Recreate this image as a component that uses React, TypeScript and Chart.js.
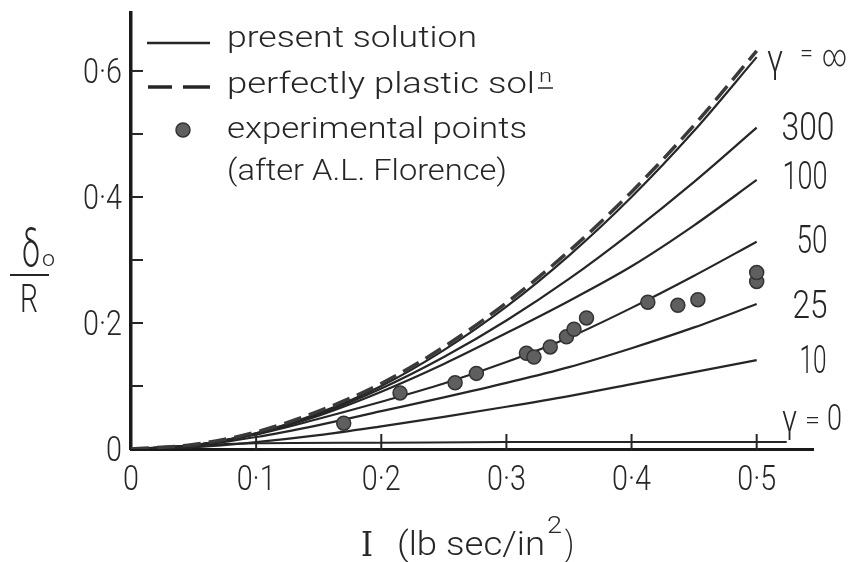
import React, { useEffect, useRef } from "react";
import { Chart, registerables } from "chart.js";

Chart.register(...registerables);

// ---------- data ----------
const impulse = [0, 0.05, 0.1, 0.15, 0.2, 0.25, 0.3, 0.35, 0.4, 0.45, 0.5];
const plasticSol = [0, 0.007, 0.027, 0.06, 0.104, 0.162, 0.232, 0.314, 0.408, 0.514, 0.632];
const gammaInf = [0, 0.006, 0.025, 0.057, 0.1, 0.157, 0.226, 0.307, 0.4, 0.505, 0.622];
const gamma300 = [0, 0.006, 0.025, 0.055, 0.096, 0.146, 0.204, 0.27, 0.344, 0.424, 0.51];
const gamma100 = [0, 0.006, 0.024, 0.053, 0.091, 0.135, 0.184, 0.235, 0.29, 0.355, 0.427];
const gamma50 = [0, 0.006, 0.023, 0.048, 0.075, 0.104, 0.138, 0.177, 0.224, 0.275, 0.329];
const gamma25 = [0, 0.005, 0.019, 0.038, 0.06, 0.082, 0.105, 0.13, 0.16, 0.193, 0.23];
const gamma10 = [0, 0.003, 0.011, 0.022, 0.036, 0.051, 0.067, 0.084, 0.103, 0.122, 0.141];
const gamma0X = [0, 0.05, 0.1, 0.2, 0.3, 0.4, 0.5, 0.524];
const gamma0Y = [0, 0.006, 0.009, 0.01, 0.011, 0.011, 0.011, 0.011];

const expX = [0.17, 0.215, 0.259, 0.276, 0.316, 0.322, 0.335, 0.348, 0.354, 0.364, 0.413, 0.437, 0.453, 0.5, 0.5];
const expY = [0.041, 0.089, 0.105, 0.12, 0.152, 0.146, 0.162, 0.178, 0.19, 0.208, 0.233, 0.228, 0.237, 0.266, 0.28];

const xTicks = [0, 0.1, 0.2, 0.3, 0.4, 0.5];
const xTickLabels = ["0", "0·1", "0·2", "0·3", "0·4", "0·5"];
const yTicks = [0, 0.1, 0.2, 0.3, 0.4, 0.5, 0.6];
const yTickLabels = ["0", "", "0·2", "", "0·4", "", "0·6"];

const curveNames = ["300", "100", "50", "25", "10"];
const legendTexts = ["present solution", "perfectly plastic sol", "experimental points", "(after A.L. Florence)"];

const INK = "#262626";
const FONT = "Roboto, 'DejaVu Sans', sans-serif";
const SERIF = "'DejaVu Serif', 'Liberation Serif', serif";

function pts(xs: number[], ys: number[]) {
  return xs.map((x, i) => ({ x, y: ys[i] }));
}

function drawFit(
  ctx: CanvasRenderingContext2D,
  text: string,
  x: number,
  baseline: number,
  size: number,
  width: number | null,
  align: "left" | "center" | "right" = "left",
  sxDefault = 1,
  family = FONT,
  weight = "300"
) {
  ctx.save();
  ctx.font = `${weight} ${size}px ${family}`;
  const w = ctx.measureText(text).width;
  const sx = width ? width / w : sxDefault;
  const ww = w * sx;
  let x0 = x;
  if (align === "center") x0 = x - ww / 2;
  else if (align === "right") x0 = x - ww;
  ctx.translate(x0, baseline);
  ctx.scale(sx, 1);
  ctx.textAlign = "left";
  ctx.textBaseline = "alphabetic";
  ctx.fillStyle = INK;
  ctx.fillText(text, 0, 0);
  ctx.restore();
}

const overlay = {
  id: "overlay",
  afterDraw(chart: any) {
    const ctx: CanvasRenderingContext2D = chart.ctx;
    const xs = chart.scales.x;
    const ys = chart.scales.y;
    const x0 = xs.getPixelForValue(0);
    const y0 = ys.getPixelForValue(0);
    ctx.save();
    ctx.strokeStyle = INK;
    ctx.lineWidth = 2;
    const seg = (a: number, b: number, c: number, d: number) => {
      ctx.beginPath();
      ctx.moveTo(a, b);
      ctx.lineTo(c, d);
      ctx.stroke();
    };
    // inward tick marks
    yTicks.forEach((v) => {
      if (v === 0) return;
      const py = ys.getPixelForValue(v);
      seg(x0, py, x0 + 12, py);
    });
    xTicks.forEach((v) => {
      if (v === 0) return;
      const px = xs.getPixelForValue(v);
      seg(px, y0 + 1, px, y0 - 15);
    });
    // tick labels
    xTicks.forEach((v, i) => {
      const px = xs.getPixelForValue(v);
      drawFit(ctx, xTickLabels[i], px, y0 + 41, 35, null, "center", 0.82);
    });
    yTicks.forEach((v, i) => {
      if (!yTickLabels[i]) return;
      const py = ys.getPixelForValue(v);
      drawFit(ctx, yTickLabels[i], x0 - 9, py + 12, 35, null, "right", 0.82);
    });

    // legend
    ctx.lineWidth = 2.5;
    seg(147, 43, 210, 43);
    ctx.lineWidth = 3.5;
    seg(148, 87, 172, 87);
    seg(183, 87, 210, 87);
    ctx.beginPath();
    ctx.arc(183, 130, 7, 0, Math.PI * 2);
    ctx.fillStyle = "#5f5f5f";
    ctx.fill();
    ctx.lineWidth = 1.5;
    ctx.strokeStyle = "#333";
    ctx.stroke();
    ctx.strokeStyle = INK;
    drawFit(ctx, legendTexts[0], 227, 47, 30, 250);
    drawFit(ctx, legendTexts[1], 227, 93, 30, 308);
    drawFit(ctx, "n", 539, 82, 19, 13);
    ctx.lineWidth = 1.5;
    seg(538, 88, 553, 88);
    drawFit(ctx, legendTexts[2], 227, 138, 30, 300);
    drawFit(ctx, legendTexts[3], 227, 180, 30, 280);

    // curve labels on the right
    drawFit(ctx, "γ", 767, 72, 38, 16);
    drawFit(ctx, "=", 800, 62, 26, 13);
    drawFit(ctx, "∞", 822, 66, 30, 25);
    const labCx = [808, 805, 812, 810, 813];
    const labBase = [140, 189, 253, 318, 373];
    const labW = [53, 45, 31, 35, 27];
    curveNames.forEach((t, i) => drawFit(ctx, t, labCx[i], labBase[i], 38, labW[i], "center"));
    drawFit(ctx, "γ", 782, 432, 38, 15);
    drawFit(ctx, "=", 805, 429, 26, 15);
    drawFit(ctx, "0", 827, 430, 36, 15);

    // x-axis title
    drawFit(ctx, "I", 361, 556, 34, 12, "left", 1, SERIF, "400");
    drawFit(ctx, "(lb sec/in", 397, 555, 34, 148);
    drawFit(ctx, "2", 547, 533, 24, 15);
    drawFit(ctx, ")", 565, 555, 34, 9);

    // y-axis title
    drawFit(ctx, "δ", 22, 266, 52, 18);
    drawFit(ctx, "o", 42, 266, 22, 13);
    ctx.lineWidth = 2;
    seg(10, 275, 49, 275);
    drawFit(ctx, "R", 20, 312, 38, 18);
    ctx.restore();
  },
};

export default function App() {
  const ref = useRef<HTMLCanvasElement | null>(null);
  useEffect(() => {
    if (!ref.current) return;
    const solid = (data: number[]) => ({
      type: "line" as const,
      data: pts(impulse, data),
      borderColor: INK,
      borderWidth: 2.2,
      pointRadius: 0,
      cubicInterpolationMode: "monotone" as const,
      fill: false,
    });
    const chart = new Chart(ref.current, {
      type: "line",
      data: {
        datasets: [
          {
            type: "scatter",
            data: pts(expX, expY),
            pointRadius: 7,
            pointBackgroundColor: "#5f5f5f",
            pointBorderColor: "#333",
            pointBorderWidth: 1.5,
            showLine: false,
          } as any,
          {
            type: "line",
            data: pts(impulse, plasticSol),
            borderColor: "#3a3a3a",
            borderWidth: 3.5,
            borderDash: [18, 8],
            pointRadius: 0,
            cubicInterpolationMode: "monotone",
            fill: false,
          },
          solid(gammaInf),
          solid(gamma300),
          solid(gamma100),
          solid(gamma50),
          solid(gamma25),
          solid(gamma10),
          {
            type: "line",
            data: pts(gamma0X, gamma0Y),
            borderColor: INK,
            borderWidth: 2,
            pointRadius: 0,
            cubicInterpolationMode: "monotone",
            fill: false,
          },
        ],
      },
      options: {
        responsive: false,
        animation: false,
        devicePixelRatio: 1,
        layout: { padding: { left: 131, right: 35, top: 13, bottom: 113 } },
        plugins: { legend: { display: false }, tooltip: { enabled: false } },
        scales: {
          x: {
            type: "linear",
            min: 0,
            max: 0.545,
            grid: { display: false, drawTicks: false },
            ticks: { display: false },
            border: { display: true, color: "#1a1a1a", width: 3 },
          },
          y: {
            type: "linear",
            min: 0,
            max: 0.692,
            grid: { display: false, drawTicks: false },
            ticks: { display: false },
            border: { display: true, color: "#1a1a1a", width: 3.5 },
          },
        },
      },
      plugins: [overlay],
    });
    return () => chart.destroy();
  }, []);
  return (
    <div style={{ position: "absolute", left: 0, top: 0, width: 848, height: 562 }}>
      <canvas ref={ref} width={848} height={562} style={{ width: 848, height: 562, display: "block" }} />
    </div>
  );
}
